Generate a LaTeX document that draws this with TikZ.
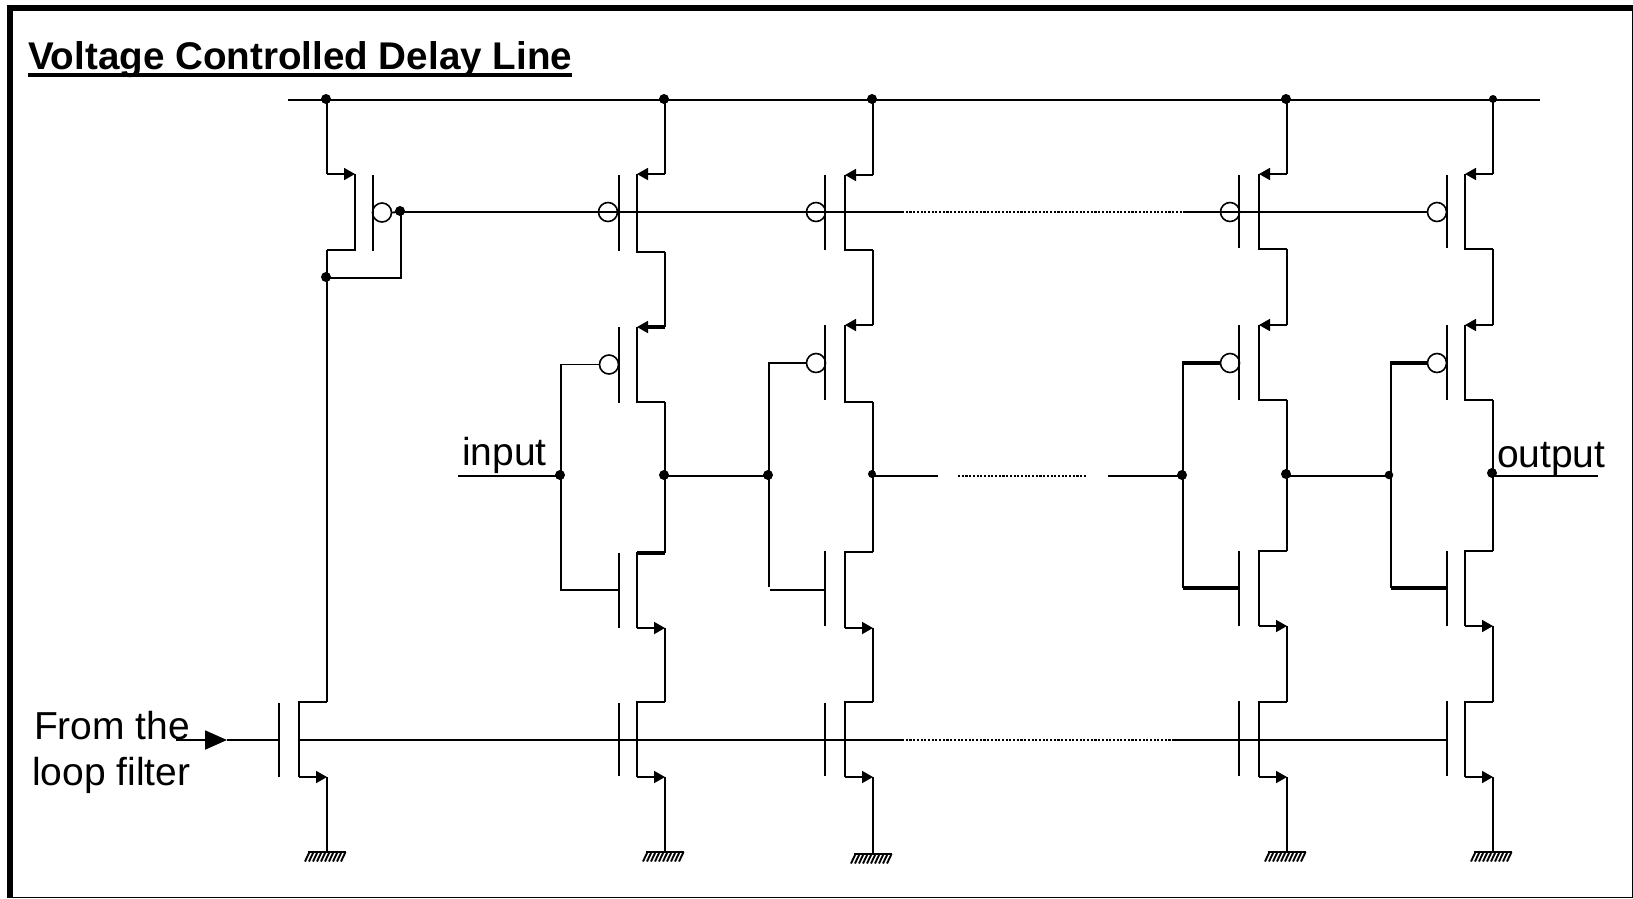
\documentclass[tikz,border=0pt]{standalone}
\usepackage{fontspec}
\setmainfont{Liberation Sans}
\usetikzlibrary{arrows.meta}
\tikzset{
  wire/.style={draw=black,line width=1.8pt,line join=miter,line cap=butt},
  heavy/.style={draw=black,line width=3.6pt,line cap=butt},
  dotwire/.style={draw=black,line width=1.8pt,dash pattern=on 2.1pt off 1.6pt},
  tipw/.style={wire,-{Triangle[length=11pt,width=12pt]}},
  jdot/.style={circle,fill=black,draw=none,minimum size=10pt,inner sep=0pt,outer sep=0pt},
  bub/.style={circle,draw=black,line width=1.6pt,minimum size=19pt,inner sep=0pt,outer sep=0pt},
  lab/.style={inner sep=0pt,outer sep=0pt,font=\fontsize{39}{39}\selectfont},
}
\newcommand{\pmosdev}[8]{% name g ch V yarrow ylow gtop gbot
  \coordinate (#1-a) at (#4,#5); \coordinate (#1-c) at (#3,#5);
  \coordinate (#1-l) at (#3,#6); \coordinate (#1-v) at (#4,#6);
  \coordinate (#1-gt) at (#2,#7); \coordinate (#1-gb) at (#2,#8);
  \draw[tipw] (#1-a) -- (#1-c);
  \draw[wire] (#1-c) -- (#1-l) -- (#1-v);
  \draw[wire] (#1-gt) -- (#1-gb);
}
\newcommand{\nmosdev}[8]{% name g ch V ytop yarrow gtop gbot
  \coordinate (#1-v) at (#4,#5); \coordinate (#1-t) at (#3,#5);
  \coordinate (#1-c) at (#3,#6); \coordinate (#1-a) at (#4,#6);
  \coordinate (#1-gt) at (#2,#7); \coordinate (#1-gb) at (#2,#8);
  \draw[wire] (#1-v) -- (#1-t) -- (#1-c);
  \draw[tipw] (#1-c) -- (#1-a);
  \draw[wire] (#1-gt) -- (#1-gb);
}
\newcommand{\gndsym}[3]{% name x y
  \coordinate (#1) at (#2,#3);
  \draw[draw=black,line width=2.6pt] (#2-19,#3+1) -- (#2+19,#3+1);
  \foreach \k in {-17.5,-13.5,-9.5,-5.5,-1.5,2.5,6.5,10.5,14.5,18.5}
    \draw[draw=black,line width=1.9pt] (#2+\k,#3+1) -- (#2+\k-4.5,#3+10.5);
}
\begin{document}
\begin{tikzpicture}[x=1pt,y=-1pt]
\useasboundingbox (0,0) rectangle (1633,898);
\fill[white] (0,0) rectangle (1633,898);
% frame
\fill[black] (7,5) rectangle (1633,898);
\fill[white] (12.5,11) rectangle (1632,897);
% title
\node[lab,anchor=base west,font=\fontsize{38.6}{38}\selectfont\bfseries] (title) at (28,69) {Voltage Controlled Delay Line};
\draw[draw=black,line width=4.4pt] (28,75) -- (572,75);
% rail
\coordinate (railL) at (288,100); \coordinate (railR) at (1540,100);
\draw[wire] (railL) -- (railR);
% column 0
\pmosdev{pz}{373}{355}{327}{174}{250}{175}{251}
\nmosdev{nz}{279}{299}{327}{702}{777}{703}{777}
\gndsym{gz}{327}{851}
% column 1
\pmosdev{pa}{619}{637}{665}{174}{252}{175}{251}
\pmosdev{qa}{619}{637}{665}{327}{402}{327}{403}
\nmosdev{ma}{619}{637}{665}{553}{628}{553}{628}
\nmosdev{na}{619}{637}{665}{702}{777}{703}{776}
\gndsym{ga}{665}{851}
% column 2
\pmosdev{pb}{825}{845}{873}{175}{250}{175}{250}
\pmosdev{qb}{825}{845}{873}{325}{402}{325}{400}
\nmosdev{mb}{825}{845}{873}{552}{628}{551}{626}
\nmosdev{nb}{825}{845}{873}{702}{777}{703}{776}
\gndsym{gb}{873}{853}
% column 3
\pmosdev{pc}{1239}{1259}{1287}{174}{249}{175}{248}
\pmosdev{qc}{1239}{1259}{1287}{325}{400}{325}{400}
\nmosdev{mc}{1239}{1259}{1287}{551}{626}{551}{626}
\nmosdev{nc}{1239}{1259}{1287}{702}{777}{701}{776}
\gndsym{gc}{1287}{851}
% column 4
\pmosdev{pd}{1447}{1465}{1493}{174}{249}{175}{248}
\pmosdev{qd}{1447}{1465}{1493}{325}{400}{325}{400}
\nmosdev{md}{1447}{1465}{1493}{551}{626}{551}{626}
\nmosdev{nd}{1447}{1465}{1493}{702}{777}{701}{776}
\gndsym{gd}{1493}{851}
% verticals
\foreach \p/\x in {z/327,a/665,b/873,c/1287,d/1493}{
  \coordinate (top\p) at (\x,100);
  \draw[wire] (top\p) -- (p\p-a);
  \draw[wire] (n\p-a) -- (g\p);
}
\foreach \p in {a,b,c,d}{
  \draw[wire] (p\p-v) -- (q\p-a);
  \draw[wire] (q\p-v) -- (m\p-v);
  \draw[wire] (m\p-a) -- (n\p-v);
}
\draw[wire] (pz-v) -- (nz-v);
% heavy bits, column 1
\draw[heavy] (qa-a) -- +(-20,0);
\draw[heavy] (ma-v) -- (ma-t);
% bubbles
\node[bub] (bz) at (382,212.5) {};
\node[bub] (ba) at (608,212) {};
\node[bub] (bb) at (816,212) {};
\node[bub] (bc) at (1230,212) {};
\node[bub] (bd) at (1437,212) {};
\node[bub] (ca) at (609,364.5) {};
\node[bub] (cb) at (816,363) {};
\node[bub] (cc) at (1230,363) {};
\node[bub] (cd) at (1437,363) {};
% bias line (PMOS gates)
\coordinate (bl) at (401,212);
\coordinate (ds) at (902,212); \coordinate (de) at (1185,212);
\coordinate (be) at (bd.west);
\draw[wire] (bl) -- (ds);
\draw[dotwire] (ds) -- (de);
\draw[wire] (de) -- (be);
\draw[wire] (bz.east) -- (bl);
\coordinate (dio) at (327,278);
\draw[wire] (bl) |- (dio);
% gate inputs
\coordinate (ia) at (561,476); \coordinate (ib) at (769,476); \coordinate (ic) at (1183,476); \coordinate (id) at (1391,476);
\coordinate (oa) at (665,476); \coordinate (ob) at (873,476); \coordinate (oc) at (1287,476); \coordinate (od) at (1493,476);
\draw[wire] (ca.west) -- (561,364.5) -- (561,590) -- (ma-gt |- 0,590);
\draw[wire] (cb.west) -- (769,363) -- (769,587);
\draw[wire] (770,590) -- (mb-gt |- 0,590);
\draw[wire] (1183,363) -- (1183,588);
\draw[wire] (1391,363) -- (1391,588);
\draw[heavy] (1182,363) -- (cc.west);
\draw[heavy] (1390,363) -- (cd.west);
\draw[heavy] (1183,588) -- (mc-gt |- 0,588);
\draw[heavy] (1391,588) -- (md-gt |- 0,588);
% signal line
\coordinate (inL) at (458,476);
\coordinate (s1) at (938,476); \coordinate (s2) at (958,476); \coordinate (s3) at (1086,476); \coordinate (s4) at (1108,476);
\coordinate (outR) at (1598,476);
\draw[wire] (inL) -- (ia);
\draw[wire] (oa) -- (ib);
\draw[wire] (ob) -- (s1);
\draw[dotwire] (s2) -- (s3);
\draw[wire] (s4) -- (ic);
\draw[wire] (oc) -- (id);
\draw[wire] (od) -- (outR);
% control line
\coordinate (fi) at (176,740); \coordinate (fa) at (227,740); \coordinate (fg) at (279,740);
\coordinate (c0) at (299,740); \coordinate (c1) at (902,740); \coordinate (c2) at (1173,740); \coordinate (c3) at (1447,740);
\draw[wire,-{Triangle[length=22pt,width=19pt]}] (fi) -- (fa);
\draw[wire] (fa) -- (fg);
\draw[wire] (c0) -- (c1);
\draw[dotwire] (c1) -- (c2);
\draw[wire] (c2) -- (c3);
% dots
\node[jdot] (d1) at (326,99) {};
\node[jdot] (d2) at (664,99) {};
\node[jdot] (d3) at (872,99) {};
\node[jdot] (d4) at (1286,99) {};
\node[jdot,minimum size=8pt] (d5) at (1493,99) {};
\node[jdot] (d6) at (400,211) {};
\node[jdot] (d7) at (326,277) {};
\node[jdot] (d8) at (560,475) {};
\node[jdot] (d9) at (664,475) {};
\node[jdot] (d10) at (768,475) {};
\node[jdot,minimum size=8pt] (d11) at (872,474) {};
\node[jdot] (d12) at (1182,475) {};
\node[jdot] (d13) at (1286,474) {};
\node[jdot,minimum size=8.5pt] (d14) at (1389,475) {};
\node[jdot] (d15) at (1492,473) {};
% labels
\node[lab,anchor=base west] (linput) at (462,465) {input};
\node[lab,anchor=base west] (loutput) at (1497,467) {output};
\node[lab,anchor=base west] (lfrom) at (34,739) {From the};
\node[lab,anchor=base west] (lloop) at (32,785) {loop filter};
\end{tikzpicture}
\end{document}
